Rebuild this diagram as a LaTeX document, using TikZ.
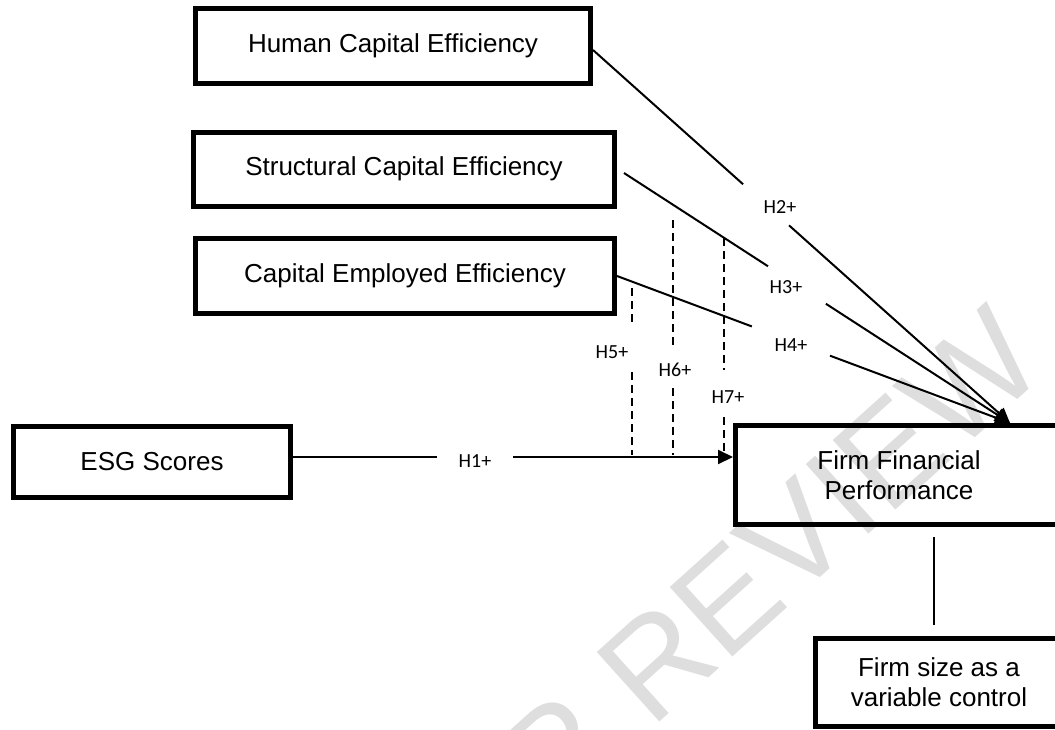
\documentclass[tikz,border=0pt]{standalone}
\usepackage{fontspec}
\setmainfont{Liberation Sans}
\newfontfamily\labelfont{Carlito}
\usetikzlibrary{arrows.meta,calc}
\definecolor{wmgray}{RGB}{222,222,222}
\begin{document}
\begin{tikzpicture}[x=0.5pt,y=-0.5pt,
  box/.style={draw, line width=2.5pt, align=center, inner sep=0pt,
    font=\fontsize{13}{15}\selectfont},
  link/.style={line width=1pt},
  arr/.style={link, -{Triangle[length=7.5pt,width=7pt]}},
  moder/.style={line width=0.8pt, dash pattern=on 4pt off 2.5pt},
  hyp/.style={font=\labelfont\fontsize{10}{12}\selectfont, inner sep=0pt}]
\useasboundingbox (0,0) rectangle (1055,729);
\clip (0,0) rectangle (1055,729);

% background watermark
\node[rotate=42, text=wmgray, font=\fontsize{68}{68}\selectfont] (wm) at (668,652) {PEER REVIEW};

% constructs
\node[box, minimum width=197.5pt, minimum height=37.5pt] (hce) at (393,46) {Human Capital Efficiency};
\node[box, minimum width=210.5pt, minimum height=37pt] (sce) at (404,169) {Structural Capital Efficiency};
\node[box, minimum width=209.5pt, minimum height=37.5pt] (cee) at (405,276) {Capital Employed Efficiency};
\node[box, minimum width=138.5pt, minimum height=35.5pt] (esg) at (152,462) {ESG Scores};
\node[box, minimum width=163.5pt, minimum height=49.5pt] (ffp) at (899,475) {Firm Financial\\Performance};
\node[box, minimum width=123.5pt, minimum height=44pt] (fs) at (939,682) {Firm size as a\\variable control};

% common arrow target on top of the outcome box
\coordinate (tip) at (1010,423);

% H1: ESG -> performance
\coordinate (h1s) at ([yshift=2.5pt]esg.east);
\coordinate (h1e) at (ffp.west |- h1s);
\draw[link] (h1s) -- ($(h1s)!0.327!(h1e)$);
\draw[arr] ($(h1s)!0.5!(h1e)$) -- (h1e);
\node[hyp] (h1) at (475,461) {H1+};

% H2: human capital -> performance
\coordinate (h2s) at ([yshift=-2pt]hce.east);
\draw[link] (h2s) -- ($(h2s)!0.36!(tip)$);
\draw[arr] ($(h2s)!0.47!(tip)$) -- (tip);
\node[hyp] (h2) at (780,207) {H2+};

% H3: structural capital -> performance
\coordinate (h3s) at ([xshift=3.5pt,yshift=-2pt]sce.east);
\draw[link] (h3s) -- ($(h3s)!0.373!(tip)$);
\draw[arr] ($(h3s)!0.523!(tip)$) -- (tip);
\node[hyp] (h3) at (786,287) {H3+};

% H4: capital employed -> performance
\coordinate (h4s) at (cee.east);
\draw[link] (h4s) -- ($(h4s)!0.343!(tip)$);
\draw[arr] ($(h4s)!0.542!(tip)$) -- (tip);
\node[hyp] (h4) at (791,345) {H4+};

% moderating paths (dashed)
\coordinate (m5a) at (632,288); \coordinate (m5b) at (632,325);
\coordinate (m5c) at (632,372); \coordinate (m5d) at (632,455);
\draw[moder] (m5a) -- (m5b);
\draw[moder] (m5c) -- (m5d);
\node[hyp] (h5) at (612,352) {H5+};

\coordinate (m6a) at (673,220); \coordinate (m6b) at (673,347);
\coordinate (m6c) at (673,388); \coordinate (m6d) at (673,455);
\draw[moder] (m6a) -- (m6b);
\draw[moder] (m6c) -- (m6d);
\node[hyp] (h6) at (675,370) {H6+};

\coordinate (m7a) at (724,238); \coordinate (m7b) at (724,370);
\coordinate (m7c) at (724,417); \coordinate (m7d) at (724,455);
\draw[moder] (m7a) -- (m7b);
\draw[moder] (m7c) -- (m7d);
\node[hyp] (h7) at (728,397) {H7+};

% control variable
\draw[link, shorten <=5.5pt, shorten >=5pt] ([xshift=-2.5pt]fs.north) -- ([xshift=-2.5pt]fs.north |- ffp.south);
\end{tikzpicture}
\end{document}
